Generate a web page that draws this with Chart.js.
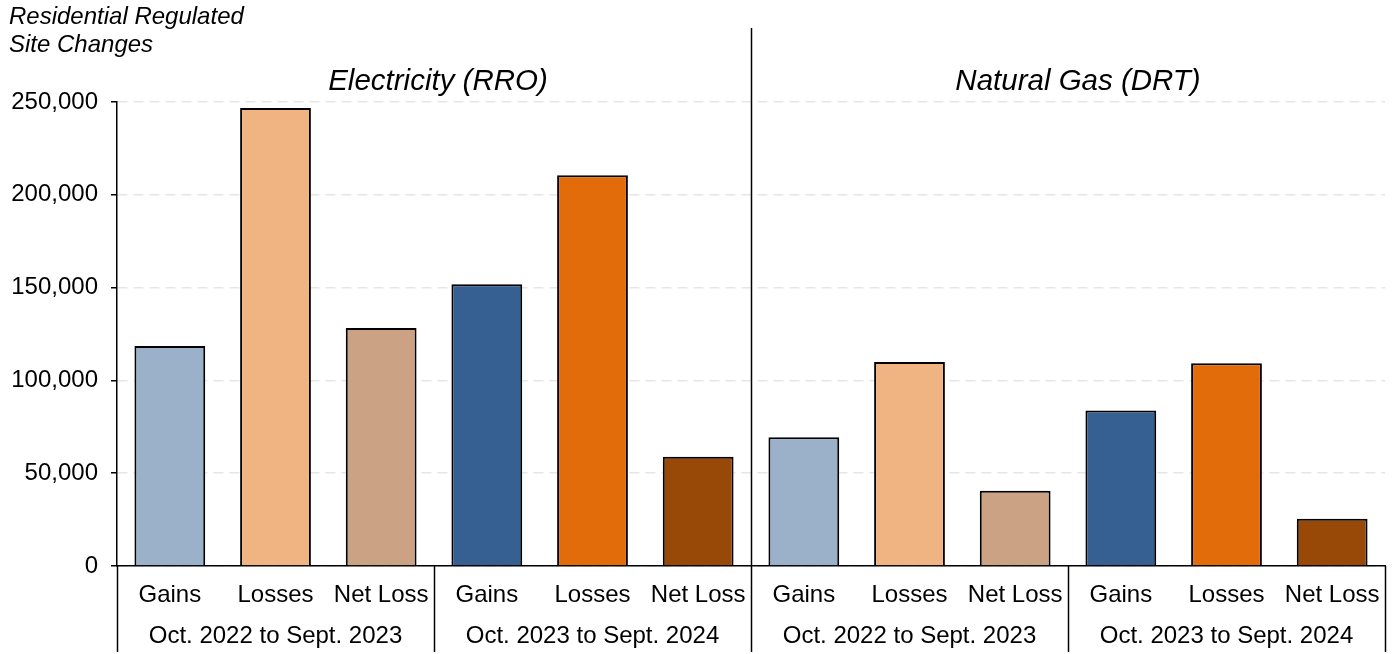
<!DOCTYPE html>
<html lang="en">
<head>
  <meta charset="UTF-8" />
  <title>Residential Regulated Site Changes</title>
  <script src="https://cdn.jsdelivr.net/npm/chart.js"></script>
  <style>
    body { margin: 0; background: #fff; }
    #wrap { width: 1395px; height: 654px; position: relative; }
  </style>
</head>
<body>
  <div id="wrap"><canvas id="grafico"></canvas></div>
  <script>
    // data
    const sections = ['Electricity (RRO)', 'Natural Gas (DRT)'];
    const periods = ['Oct. 2022 to Sept. 2023', 'Oct. 2023 to Sept. 2024'];
    const measures = ['Gains', 'Losses', 'Net Loss'];
    const electricity2223 = [118500, 246700, 128200];
    const electricity2324 = [151800, 210600, 58800];
    const gas2223 = [69400, 109900, 40500];
    const gas2324 = [83800, 109300, 25500];
    const yTicks = [0, 50000, 100000, 150000, 200000, 250000];
    const axisTitle = ['Residential Regulated', 'Site Changes'];

    const FONT = "'Liberation Sans', Arial, sans-serif";
    const colors22 = ['#9bb0c9', '#f0b482', '#cba284'];
    const colors23 = ['#366092', '#e36c0a', '#984807'];
    const titleShift = [4, 10]; // section titles sit a bit right of centre

    const labels = [];
    const values = [];
    const barColors = [];
    [[electricity2223, electricity2324], [gas2223, gas2324]].forEach(pair => {
      pair.forEach((vals, p) => {
        measures.forEach((m, i) => {
          labels.push(m);
          values.push(vals[i]);
          barColors.push(p === 0 ? colors22[i] : colors23[i]);
        });
      });
    });

    // period labels, separators, section titles, axis title
    const decor = {
      id: 'decor',
      afterDraw(chart) {
        const { ctx, chartArea } = chart;
        const x = chart.scales.x;
        const n = labels.length;
        const edge = i => {
          if (i <= 0) return chartArea.left;
          if (i >= n) return chartArea.right;
          return (x.getPixelForValue(i - 1) + x.getPixelForValue(i)) / 2;
        };
        ctx.save();
        ctx.strokeStyle = '#000';
        ctx.lineWidth = 1.5;
        // group separators under the axis
        for (let g = 0; g <= 4; g++) {
          const px = Math.round(edge(g * 3)) + 0.5;
          ctx.beginPath();
          ctx.moveTo(px, g === 2 ? 28 : chartArea.bottom);
          ctx.lineTo(px, 652);
          ctx.stroke();
        }
        ctx.fillStyle = '#000';
        ctx.textAlign = 'center';
        ctx.textBaseline = 'middle';
        ctx.font = '24px ' + FONT;
        for (let g = 0; g < 4; g++) {
          const cx = (edge(g * 3) + edge(g * 3 + 3)) / 2;
          ctx.fillText(periods[g % 2], cx, 636);
        }
        ctx.font = 'italic 29.5px ' + FONT;
        sections.forEach((s, k) => {
          const cx = (edge(k * 6) + edge(k * 6 + 6)) / 2 + titleShift[k];
          ctx.fillText(s, cx, 82);
        });
        ctx.textAlign = 'left';
        ctx.font = 'italic 24px ' + FONT;
        ctx.fillText(axisTitle[0], 9, 17);
        ctx.fillText(axisTitle[1], 9, 45);
        ctx.restore();
      }
    };

    new Chart(document.getElementById('grafico'), {
      type: 'bar',
      data: {
        labels: labels,
        datasets: [{
          data: values,
          backgroundColor: barColors,
          borderColor: '#000',
          borderWidth: 2,
          barPercentage: 0.67,
          categoryPercentage: 1
        }]
      },
      options: {
        responsive: true,
        maintainAspectRatio: false,
        animation: false,
        layout: { padding: { top: 102, right: 10, left: 0, bottom: 0 } },
        plugins: { legend: { display: false }, tooltip: { enabled: false } },
        scales: {
          x: {
            grid: { display: false, drawTicks: false },
            border: { color: '#000', width: 1.5 },
            ticks: {
              color: '#000', font: { family: FONT, size: 24 },
              padding: 15, autoSkip: false, maxRotation: 0
            },
            afterFit(s) { s.height = 88; }
          },
          y: {
            min: 0, max: 250000,
            afterBuildTicks(s) { s.ticks = yTicks.map(v => ({ value: v })); },
            grid: { color: '#e6e6e6', lineWidth: 1.5, tickColor: '#000', tickLength: 6 },
            border: { color: '#000', width: 1.5, dash: [10, 6] },
            ticks: {
              color: '#000', font: { family: FONT, size: 24 }, padding: 13,
              callback: v => v.toLocaleString('en-US')
            },
            afterFit(s) { s.width = 117; }
          }
        }
      },
      plugins: [decor]
    });
  </script>
</body>
</html>
